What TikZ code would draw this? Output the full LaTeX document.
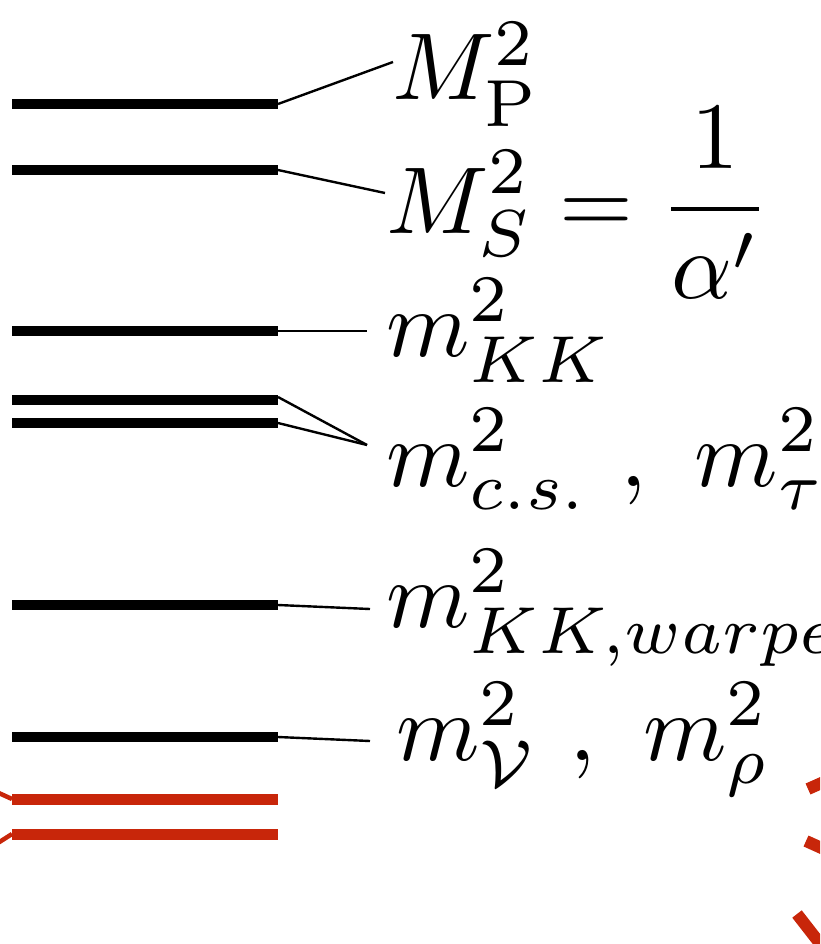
\documentclass[tikz,border=0pt]{standalone}
\usepackage{graphicx}
\newcommand{\biglab}[1]{\scalebox{9.5}{#1}}
\begin{document}
\begin{tikzpicture}[x=1pt,y=-1pt,
  bar/.style={line width=10pt},
  redbar/.style={line width=11pt, draw=rbar},
  conn/.style={line width=2.4pt},
  redconn/.style={line width=4.5pt, draw=rbar},
  reddash/.style={line width=12pt, draw=rbar},
  lab/.style={anchor=base west, inner sep=0pt}]
\definecolor{rbar}{RGB}{200,38,10}
\useasboundingbox (0,0) rectangle (820,944);
\clip (0,0) rectangle (820,944);
% bars
\coordinate (aP) at (12,104);  \coordinate (bP) at (278,104);
\coordinate (aS) at (12,170);  \coordinate (bS) at (278,170);
\coordinate (aK) at (12,331);  \coordinate (bK) at (278,331);
\coordinate (aC) at (12,400);  \coordinate (bC) at (278,400);
\coordinate (aT) at (12,423);  \coordinate (bT) at (278,423);
\coordinate (aW) at (12,605);  \coordinate (bW) at (278,605);
\coordinate (aV) at (12,737);  \coordinate (bV) at (278,737);
\coordinate (aR1) at (12,799); \coordinate (bR1) at (278,799);
\coordinate (aR2) at (12,834); \coordinate (bR2) at (278,834);
\foreach \n in {P,S,K,C,T,W,V} \draw[bar] (a\n) -- (b\n);
\draw[redbar] (aR1) -- (bR1);
\draw[redbar] (aR2) -- (bR2);
% labels
\node[lab] (LP) at (392,100) {\biglab{$M^2_{\mathrm{P}}$}};
\node[lab] (LS) at (386,233) {\biglab{$\displaystyle M^2_S = \frac{1}{\alpha'}$}};
\node[lab] (LK) at (386,356) {\biglab{$m^2_{KK}$}};
\node[lab] (LC) at (386,486) {\biglab{$m^2_{c.s.}\ ,\ m^2_{\tau}$}};
\node[lab] (LW) at (386,627) {\biglab{$m^2_{KK,warped}$}};
\node[lab] (LV) at (396,760) {\biglab{$m^2_{\mathcal{V}}\ ,\ m^2_{\rho}$}};
% connector ends
\coordinate (eP) at (393,62);
\coordinate (eS) at (385,193);
\coordinate (eK) at (367,331);
\coordinate (eC) at (367,445);
\coordinate (eW) at (370,609);
\coordinate (eV) at (370,741);
\draw[conn] (bP) -- (eP);
\draw[conn] (bS) -- (eS);
\draw[conn] (bK) -- (eK);
\draw[conn] (278,397) -- (eC);
\draw[conn] (bT) -- (eC);
\draw[conn] (bW) -- (eW);
\draw[conn] (bV) -- (eV);
% red connectors leaving to the left
\coordinate (rL1) at (-10,789);
\coordinate (rL2) at (-10,848);
\draw[redconn] (aR1) -- (rL1);
\draw[redconn] (aR2) -- (rL2);
% red dashed curve at right
\draw[reddash] (808,789) -- (826,781);
\draw[reddash] (806,841) -- (826,850);
\draw[reddash] (797,914) -- (825,950);
\end{tikzpicture}
\end{document}
